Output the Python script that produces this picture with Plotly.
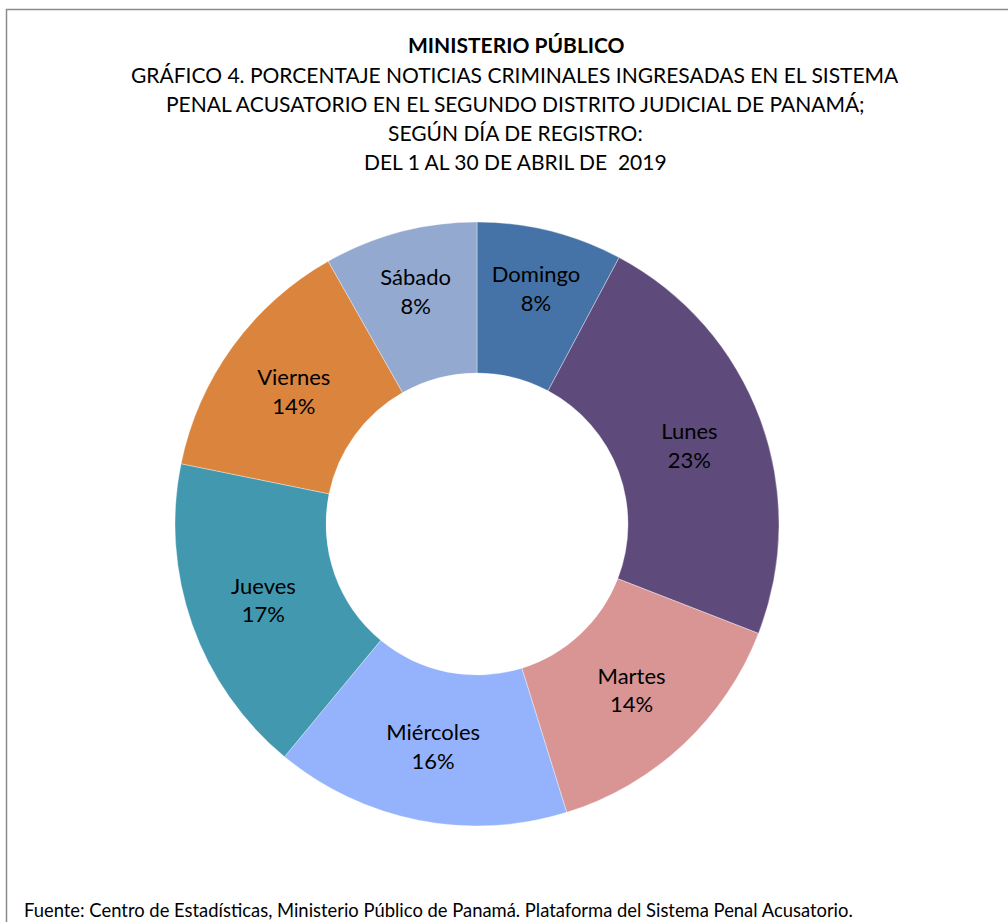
import plotly.graph_objects as go

dias = ["Domingo", "Lunes", "Martes", "Miércoles", "Jueves", "Viernes", "Sábado"]
porcentajes = [7.8, 23.1, 14.3, 15.8, 17.2, 13.6, 8.2]
colores = ["#4573A7", "#5F4B7B", "#D99594", "#95B3FC", "#4198AF", "#DB843D", "#93A9CF"]

titulo = "MINISTERIO PÚBLICO"
subtitulo = [
    "GRÁFICO 4. PORCENTAJE NOTICIAS CRIMINALES INGRESADAS EN EL SISTEMA",
    "PENAL ACUSATORIO EN EL SEGUNDO DISTRITO JUDICIAL DE PANAMÁ;",
    "SEGÚN DÍA DE REGISTRO:",
    "DEL 1 AL 30 DE ABRIL DE  2019",
]
fuente = "Fuente: Centro de Estadísticas, Ministerio Público de Panamá. Plataforma del Sistema Penal Acusatorio."

W, H = 1008, 922
FONT = "Lato, Carlito, Calibri, sans-serif"

fig = go.Figure(go.Pie(
    labels=dias,
    values=porcentajes,
    hole=0.5,
    sort=False,
    direction="clockwise",
    rotation=0,
    marker=dict(colors=colores, line=dict(color="rgba(255,255,255,0.6)", width=0.6)),
    texttemplate="%{label}<br>%{percent:.0%}",
    textposition="inside",
    insidetextorientation="horizontal",
    textfont=dict(family=FONT, size=22, color="#000000"),
    showlegend=False,
    hoverinfo="label+percent",
    domain=dict(x=[174 / W, 780 / W], y=[(H - 826) / H, (H - 222) / H]),
))

annotations = [dict(text="<b>" + titulo + "</b>", x=516 / W, y=1 - 44 / H, xref="paper", yref="paper",
                    showarrow=False, xanchor="center", yanchor="middle",
                    font=dict(family=FONT, size=21, color="#000000"))]
for i, line in enumerate(subtitulo):
    annotations.append(dict(text=line, x=515 / W, y=1 - (74 + 29 * i) / H, xref="paper", yref="paper",
                            showarrow=False, xanchor="center", yanchor="middle",
                            font=dict(family=FONT, size=21, color="#000000")))
annotations.append(dict(text=fuente, x=22 / W, y=1 - 910 / H, xref="paper", yref="paper",
                        showarrow=False, xanchor="left", yanchor="middle",
                        font=dict(family=FONT, size=18.4, color="#000000")))

fig.update_layout(
    width=W, height=H,
    margin=dict(l=0, r=0, t=0, b=0),
    paper_bgcolor="#FFFFFF",
    plot_bgcolor="#FFFFFF",
    annotations=annotations,
    shapes=[dict(type="rect", xref="paper", yref="paper",
                 x0=6.5 / W, x1=1.05, y0=-0.05, y1=1 - 9.5 / H,
                 line=dict(color="#8C8C8C", width=1.5), fillcolor="rgba(0,0,0,0)")],
)

fig.write_html(
    "out.html",
    config={"displayModeBar": False},
    post_script="document.body.style.margin='0';document.body.style.overflow='hidden';",
)
